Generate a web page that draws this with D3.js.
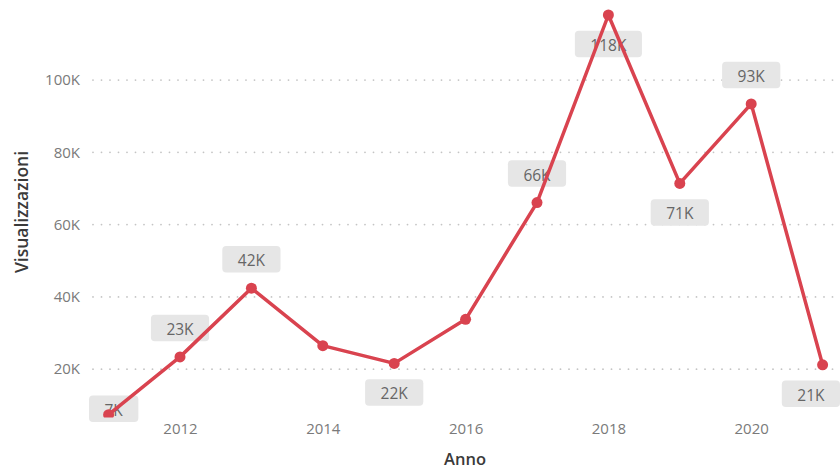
<!DOCTYPE html>
<html>
<head>
<meta charset="utf-8">
<script src="https://cdn.jsdelivr.net/npm/d3@7"></script>
<style>
  html, body { margin: 0; padding: 0; background: #ffffff; }
  svg { display: block; font-family: "Open Sans", "Noto Sans", sans-serif; }
</style>
</head>
<body>
<svg id="chart" width="840" height="472"></svg>
<script>
// Annual views
const years = [2011, 2012, 2013, 2014, 2015, 2016, 2017, 2018, 2019, 2020, 2021];
const views = [7400, 23400, 42400, 26500, 21600, 33800, 66100, 118000, 71400, 93400, 21200];
// Where each value label sits relative to its point ("none" = no label)
const labelPlacement = ["inside", "above", "above", "none", "below", "none", "above", "below", "below", "above", "below"];
const yTicks = [20000, 40000, 60000, 80000, 100000];
const xTicks = [2012, 2014, 2016, 2018, 2020];

const W = 840, H = 472;
const plot = { left: 93, right: 835, top: 0, bottom: 417.5 };

const svg = d3.select("#chart");

const x = d3.scaleLinear()
  .domain(d3.extent(years))
  .range([108.6, 822.6]);

const y = d3.scaleLinear()
  .domain(d3.extent(views))
  .range([414.7, 15]);

const fmtK = v => Math.round(v / 1000) + "K";

// Dotted horizontal gridlines
svg.append("g")
  .selectAll("line")
  .data(yTicks)
  .join("line")
  .attr("x1", plot.left)
  .attr("x2", plot.right)
  .attr("y1", d => y(d))
  .attr("y2", d => y(d))
  .attr("stroke", "#c4c4c4")
  .attr("stroke-width", 1.8)
  .attr("stroke-linecap", "round")
  .attr("stroke-dasharray", "0 8.5");

// Y axis labels
const yAxis = d3.axisLeft(y).tickValues(yTicks).tickFormat(fmtK).tickSize(0).tickPadding(0);
svg.append("g")
  .attr("transform", "translate(80,0)")
  .call(yAxis)
  .call(g => g.select(".domain").remove())
  .call(g => g.selectAll("text")
    .attr("fill", "#7a7a7a")
    .attr("font-size", 15)
    .attr("font-family", "'Open Sans', sans-serif"));

// X axis labels
const xAxis = d3.axisBottom(x).tickValues(xTicks).tickFormat(d3.format("d")).tickSize(0).tickPadding(0);
svg.append("g")
  .attr("transform", "translate(0,423)")
  .call(xAxis)
  .call(g => g.select(".domain").remove())
  .call(g => g.selectAll("text")
    .attr("fill", "#7a7a7a")
    .attr("font-size", 15)
    .attr("font-family", "'Open Sans', sans-serif"));

// Axis titles
svg.append("text")
  .attr("x", 465)
  .attr("y", 465)
  .attr("text-anchor", "middle")
  .attr("fill", "#3a3a3a")
  .attr("font-size", 16.5)
  .attr("font-weight", 600)
  .text("Anno");

svg.append("text")
  .attr("transform", "translate(28,212) rotate(-90)")
  .attr("text-anchor", "middle")
  .attr("fill", "#3a3a3a")
  .attr("font-size", 17.5)
  .attr("font-weight", 600)
  .text("Visualizzazioni");

// Value labels (drawn beneath the line)
const data = years.map((yr, i) => ({ yr, v: views[i], place: labelPlacement[i] }));
const labels = svg.append("g");
data.filter(d => d.place !== "none").forEach(d => {
  const g = labels.append("g");
  const t = g.append("text")
    .attr("text-anchor", "middle")
    .attr("dominant-baseline", "central")
    .attr("fill", "#666666")
    .attr("font-size", 15.5)
    .text(fmtK(d.v));
  const tw = t.node().getComputedTextLength();
  const bw = tw + 31, bh = 26.5;
  const px = x(d.yr), py = y(d.v);
  let cy = d.place === "above" ? py - 29 : d.place === "below" ? py + 29 : py - 6;
  let cx = Math.max(89 + bw / 2, Math.min(840 - bw / 2, px));
  g.insert("rect", "text")
    .attr("x", cx - bw / 2)
    .attr("y", cy - bh / 2)
    .attr("width", bw)
    .attr("height", bh)
    .attr("rx", 4)
    .attr("fill", "#e6e6e6");
  t.attr("x", cx).attr("y", cy + 1);
});

// Line and markers, clipped to the plot area
svg.append("clipPath").attr("id", "plotClip")
  .append("rect")
  .attr("x", 0).attr("y", plot.top)
  .attr("width", W).attr("height", plot.bottom - plot.top);

const series = svg.append("g").attr("clip-path", "url(#plotClip)");
const red = "#d9434f";

series.append("path")
  .datum(data)
  .attr("fill", "none")
  .attr("stroke", red)
  .attr("stroke-width", 3.5)
  .attr("stroke-linejoin", "round")
  .attr("d", d3.line().x(d => x(d.yr)).y(d => y(d.v)));

series.selectAll("circle")
  .data(data)
  .join("circle")
  .attr("cx", d => x(d.yr))
  .attr("cy", d => y(d.v))
  .attr("r", 5.5)
  .attr("fill", red);
</script>
</body>
</html>
